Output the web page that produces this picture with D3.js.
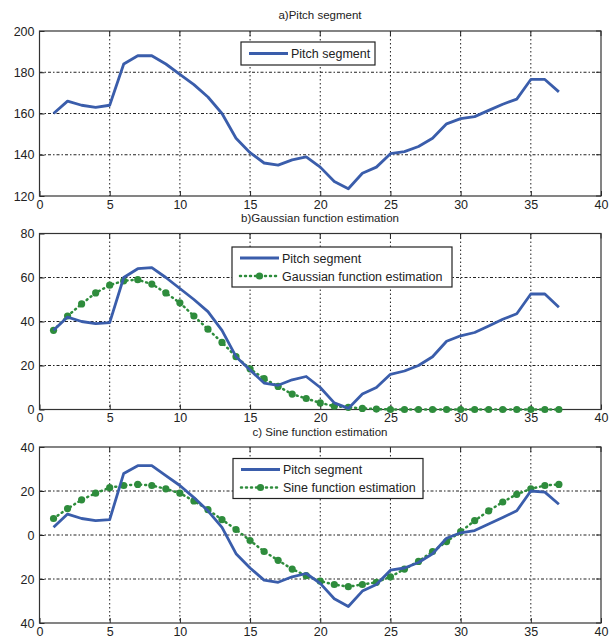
<!DOCTYPE html>
<html><head><meta charset="utf-8">
<script src="https://cdn.jsdelivr.net/npm/d3@7/dist/d3.min.js"></script>
<style>
body{margin:0;background:#fff;}
text{font-family:"Liberation Sans",Arial,Helvetica,sans-serif;fill:#222;}
</style></head>
<body><svg id="c" width="610" height="639"></svg>
<script>
const xs = d3.range(1, 38);
const xTicks = [0,5,10,15,20,25,30,35,40];

const pitchA = [160,166,164,163,164,184,188,188,184,179,174,168,160,148,141,136,135,137.5,139,134,127,123.5,131,134,140.5,141.5,144,148,155,157.5,158.5,161.5,164.5,167,176.5,176.5,170.5];
const yTicksA = [120,140,160,180,200];
const yLabelsA = ["120","140","160","180","200"];

const pitchB = [36,42,40,39,39.5,60,64,64.5,60,55,50,44.5,36,24,18,12,11,13.5,15,10,3,0.5,7,10,16,17.5,20,24,31,33.5,35,38,41,43.5,52.5,52.5,46.5];
const gaussB = [36,42.5,48,53,56.5,58.5,59,57,53,48.5,42.5,36.5,30.5,24,18.5,14,10.5,7,5,3,1.5,1,0.5,0.2,0,0,0,0,0,0,0,0,0,0,0,0,0];
const yTicksB = [0,20,40,60,80];
const yLabelsB = ["0","20","40","60","80"];

const pitchC = [3.5,9.5,7.5,6.5,7,28,31.5,31.5,27,22.5,17,11,3.5,-8.5,-15,-20.5,-21.5,-19,-17.5,-22,-29,-32.5,-25.5,-22.5,-16,-15,-12.5,-8.5,-1.5,1,2,5,8,11,20,19.5,14];
const sineC = [7.5,12,16,19,21.5,22.5,23,22.5,21,19,15.5,11.5,7,2.5,-2.5,-7.5,-11.5,-15.5,-18.5,-21,-22.5,-23.5,-22.5,-21.5,-19,-15.5,-12,-7.5,-3,1.5,6.5,11,15,18.5,21,22.5,23];
const yTicksC = [-40,-20,0,20,40];
const yLabelsC = ["40","20","0","20","40"];

const titles = ["a)Pitch segment","b)Gaussian function estimation","c) Sine function estimation"];
const legendA = ["Pitch segment"];
const legendB = ["Pitch segment","Gaussian function estimation"];
const legendC = ["Pitch segment","Sine function estimation"];

const BLUE = "#3a5dab", GREEN = "#2e8c3c";
const svg = d3.select("#c");

const panels = [
  {top:31, bottom:196, yd:[120,200], yt:yTicksA, yl:yLabelsA, pitch:pitchA, est:null, title:titles[0], titleY:19, legend:legendA, lg:{x:241,y:42,w:134,h:23}},
  {top:233.5, bottom:409.5, yd:[0,80], yt:yTicksB, yl:yLabelsB, pitch:pitchB, est:gaussB, title:titles[1], titleY:222, legend:legendB, lg:{x:232,y:247,w:220,h:40}},
  {top:447, bottom:623, yd:[-40,40], yt:yTicksC, yl:yLabelsC, pitch:pitchC, est:sineC, title:titles[2], titleY:436, legend:legendC, lg:{x:233,y:458.5,w:190,h:40}}
];
const L = 39.5, R = 601;

panels.forEach(p => {
  const g = svg.append("g");
  const x = d3.scaleLinear().domain([0,40]).range([L,R]);
  const y = d3.scaleLinear().domain(p.yd).range([p.bottom,p.top]);
  g.append("g").selectAll("line.gx").data(xTicks.slice(1,-1)).join("line")
    .attr("x1",d=>x(d)).attr("x2",d=>x(d)).attr("y1",p.top).attr("y2",p.bottom)
    .attr("stroke","#222").attr("stroke-width",1).attr("stroke-dasharray","1.5,2.5");
  g.append("g").selectAll("line.gy").data(p.yt.slice(1,-1)).join("line")
    .attr("y1",d=>y(d)).attr("y2",d=>y(d)).attr("x1",L).attr("x2",R)
    .attr("stroke","#222").attr("stroke-width",1).attr("stroke-dasharray","3,2,1.5,2");
  const xa = g.append("g").attr("transform",`translate(0,${p.bottom})`)
    .call(d3.axisBottom(x).tickValues(xTicks).tickSize(-5).tickPadding(4).tickFormat(d3.format("d")));
  const ya = g.append("g").attr("transform",`translate(${L},0)`)
    .call(d3.axisLeft(y).tickValues(p.yt).tickSize(-5).tickPadding(5).tickFormat((d,i)=>p.yl[i]));
  [xa,ya].forEach(a=>{a.select(".domain").remove(); a.selectAll("line").attr("stroke","#222");
    a.selectAll("text").attr("font-size",12.5).attr("fill","#222").style("font-family","Liberation Sans,Arial,sans-serif");});
  g.append("g").selectAll("line").data(p.yt).join("line")
    .attr("x1",R).attr("x2",R-5).attr("y1",d=>y(d)).attr("y2",d=>y(d)).attr("stroke","#222");
  g.append("g").selectAll("line").data(xTicks).join("line")
    .attr("x1",d=>x(d)).attr("x2",d=>x(d)).attr("y1",p.top).attr("y2",p.top+5).attr("stroke","#222");
  g.append("rect").attr("x",L).attr("y",p.top).attr("width",R-L).attr("height",p.bottom-p.top)
    .attr("fill","none").attr("stroke","#333").attr("stroke-width",1.2);
  svg.append("text").attr("x",320).attr("y",p.titleY).attr("text-anchor","middle")
    .attr("font-size",11.5).text(p.title);
  const line = d3.line().x((d,i)=>x(xs[i])).y(d=>y(d));
  if (p.est) {
    g.append("path").datum(p.est).attr("d",line).attr("fill","none").attr("stroke",GREEN)
      .attr("stroke-width",2.5).attr("stroke-dasharray","1,4").attr("stroke-linecap","round");
    g.append("g").selectAll("circle").data(p.est).join("circle")
      .attr("cx",(d,i)=>x(xs[i])).attr("cy",d=>y(d)).attr("r",3.6).attr("fill",GREEN);
  }
  g.append("path").datum(p.pitch).attr("d",line).attr("fill","none").attr("stroke",BLUE)
    .attr("stroke-width",2.8).attr("stroke-linejoin","round");
  const lg = p.lg;
  const lgG = svg.append("g");
  lgG.append("rect").attr("x",lg.x).attr("y",lg.y).attr("width",lg.w).attr("height",lg.h)
    .attr("fill","#fff").attr("stroke","#222").attr("stroke-width",1.2);
  p.legend.forEach((t,i)=>{
    const cy = lg.y + (p.legend.length===1 ? lg.h/2 : 11 + i*18);
    const x1 = lg.x+8, x2 = lg.x+47;
    if (i===0) {
      lgG.append("line").attr("x1",x1).attr("x2",x2).attr("y1",cy).attr("y2",cy)
        .attr("stroke",BLUE).attr("stroke-width",2.8);
    } else {
      lgG.append("line").attr("x1",x1).attr("x2",x2).attr("y1",cy).attr("y2",cy)
        .attr("stroke",GREEN).attr("stroke-width",2.5).attr("stroke-dasharray","1,4").attr("stroke-linecap","round");
      lgG.append("circle").attr("cx",(x1+x2)/2).attr("cy",cy).attr("r",3.6).attr("fill",GREEN);
    }
    lgG.append("text").attr("x",x2+3).attr("y",cy+4.5).attr("font-size",12.5).text(t);
  });
});
</script></body></html>
